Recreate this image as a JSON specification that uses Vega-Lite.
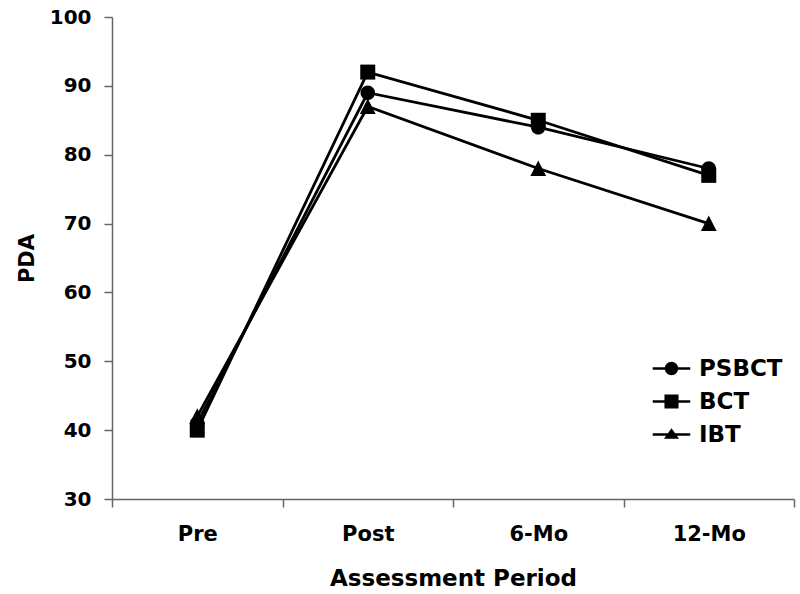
{
  "$schema": "https://vega.github.io/schema/vega-lite/v6.json",
  "width": 682,
  "height": 482,
  "autosize": "none",
  "padding": {"left": 112, "top": 17, "right": 6, "bottom": 95},
  "background": "white",
  "config": {
    "view": {"stroke": null},
    "font": "DejaVu Sans",
    "axis": {"grid": false, "labelFont": "DejaVu Sans", "titleFont": "DejaVu Sans"}
  },
  "data": {
    "values": [
      {"group": "PSBCT", "period": "Pre", "value": 41},
      {"group": "PSBCT", "period": "Post", "value": 89},
      {"group": "PSBCT", "period": "6-Mo", "value": 84},
      {"group": "PSBCT", "period": "12-Mo", "value": 78},
      {"group": "BCT", "period": "Pre", "value": 40},
      {"group": "BCT", "period": "Post", "value": 92},
      {"group": "BCT", "period": "6-Mo", "value": 85},
      {"group": "BCT", "period": "12-Mo", "value": 77},
      {"group": "IBT", "period": "Pre", "value": 42},
      {"group": "IBT", "period": "Post", "value": 87},
      {"group": "IBT", "period": "6-Mo", "value": 78},
      {"group": "IBT", "period": "12-Mo", "value": 70}
    ]
  },
  "encoding": {
    "x": {
      "field": "period",
      "type": "nominal",
      "sort": ["Pre", "Post", "6-Mo", "12-Mo"],
      "scale": {"type": "band", "paddingInner": 0, "paddingOuter": 0},
      "axis": {
        "title": "Assessment Period",
        "labelAngle": 0,
        "labelFontSize": 21,
        "labelFontWeight": "bold",
        "labelColor": "black",
        "labelPadding": 16,
        "tickBand": "extent",
        "tickSize": 8,
        "tickColor": "#666666",
        "domainColor": "#666666",
        "domainWidth": 1.5,
        "tickWidth": 1.5,
        "titleFontSize": 23,
        "titleFontWeight": "bold",
        "titleColor": "black",
        "titlePadding": 23
      }
    },
    "y": {
      "field": "value",
      "type": "quantitative",
      "scale": {"domain": [30, 100], "nice": false, "zero": false},
      "axis": {
        "title": "PDA",
        "values": [30, 40, 50, 60, 70, 80, 90, 100],
        "labelFontSize": 20,
        "labelFontWeight": "bold",
        "labelColor": "black",
        "labelPadding": 13,
        "tickSize": 8,
        "tickColor": "#666666",
        "domainColor": "#666666",
        "domainWidth": 1.5,
        "tickWidth": 1.5,
        "titleFontSize": 21,
        "titleFontWeight": "bold",
        "titleColor": "black",
        "titlePadding": 12
      }
    }
  },
  "layer": [
    {
      "mark": {"type": "line", "color": "black", "strokeWidth": 2.8},
      "encoding": {"detail": {"field": "group", "type": "nominal"}}
    },
    {
      "mark": {"type": "point", "filled": true, "color": "black", "opacity": 1, "size": 225},
      "encoding": {
        "shape": {
          "field": "group",
          "type": "nominal",
          "scale": {
            "domain": ["PSBCT", "BCT", "IBT"],
            "range": [
              "M0.97,0A0.97,0.97 0 1,1 -0.97,0A0.97,0.97 0 1,1 0.97,0Z",
              "M-1,-1H1V1H-1Z",
              "M0,-1.07L1.05,1L-1.05,1Z"
            ]
          },
          "legend": null
        }
      }
    },
    {
      "mark": {"type": "point", "filled": true, "color": "black", "opacity": 0},
      "encoding": {
        "shape": {
          "field": "group",
          "type": "nominal",
          "scale": {
            "domain": ["PSBCT", "BCT", "IBT"],
            "range": [
              "M-1.12,-0.075H1.12V0.075H-1.12ZM0.4,0A0.4,0.4 0 1,1 -0.4,0A0.4,0.4 0 1,1 0.4,0Z",
              "M-1.12,-0.075H1.12V0.075H-1.12ZM-0.42,-0.42H0.42V0.42H-0.42Z",
              "M-1.12,-0.075H1.12V0.075H-1.12ZM0,-0.38L0.45,0.25L-0.45,0.25Z"
            ]
          },
          "legend": {
            "title": null,
            "orient": "none",
            "legendX": 542,
            "legendY": 334,
            "symbolSize": 1122,
            "symbolFillColor": "black",
            "symbolOpacity": 1,
            "rowPadding": 3,
            "labelOffset": 10,
            "labelFontSize": 23,
            "labelFontWeight": "bold",
            "labelColor": "black",
            "labelFont": "DejaVu Sans",
            "encode": {
              "symbols": {"opacity": {"value": 1}, "fillOpacity": {"value": 1}, "fill": {"value": "black"}}
            }
          }
        }
      }
    }
  ],
  "resolve": {"scale": {"shape": "independent"}}
}
